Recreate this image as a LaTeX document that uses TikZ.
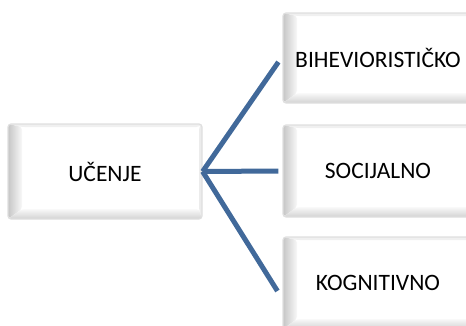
\documentclass[tikz,border=0pt]{standalone}
\usepackage{fontspec}
\setmainfont{Carlito}
\usetikzlibrary{positioning}
\usetikzlibrary{calc}

\definecolor{veza}{RGB}{65,105,154}

\tikzset{
	kutija/.style = {draw = gray!25, line width = 1.2pt, rounded corners = 3pt, fill = white,
		minimum width = 190pt, minimum height = 92pt, inner sep = 0pt,
		font = \fontsize{23.5}{28}\selectfont,
		path picture = {
			\coordinate (nw) at (path picture bounding box.north west);
			\coordinate (ne) at (path picture bounding box.north east);
			\coordinate (sw) at (path picture bounding box.south west);
			\coordinate (se) at (path picture bounding box.south east);
			\fill [gray!12] (nw) -- (ne) -- ($(ne) + (-3pt, -3pt)$) -- ($(nw) + (14pt, -3pt)$) -- cycle;
			\fill [gray!15] (ne) -- (se) -- ($(se) + (-3pt, 10pt)$) -- ($(ne) + (-3pt, -3pt)$) -- cycle;
			\shade [left color = gray!45, right color = gray!5] (nw) -- (sw) -- ($(sw) + (14pt, 10pt)$) -- ($(nw) + (14pt, -3pt)$) -- cycle;
			\shade [bottom color = gray!35, top color = gray!5] (sw) -- (se) -- ($(se) + (-3pt, 10pt)$) -- ($(sw) + (14pt, 10pt)$) -- cycle;
		}},
	spoj/.style = {draw = veza, line width = 5pt}
}

\begin{document}
\begin{tikzpicture}[x = 1pt, y = -1pt]
	\useasboundingbox (0, 0) rectangle (466, 325);
	\node [kutija, minimum width = 194pt, minimum height = 95pt] (ucenje) at (105, 171.5) {UČENJE};
	\node [kutija, minimum height = 90pt] (bihev) at (378, 58) {BIHEVIORISTIČKO};
	\node [kutija] (socijalno) at (378, 171) {SOCIJALNO};
	\node [kutija] (kognitivno) at (378, 283) {KOGNITIVNO};
	\draw [spoj] (ucenje.east) -- ([xshift = -4pt, yshift = -4pt] bihev.west);
	\draw [spoj] (ucenje.east) -- ([xshift = -4pt] socijalno.west);
	\draw [spoj] (ucenje.east) -- ([xshift = -5pt, yshift = -8pt] kognitivno.west);
\end{tikzpicture}
\end{document}
